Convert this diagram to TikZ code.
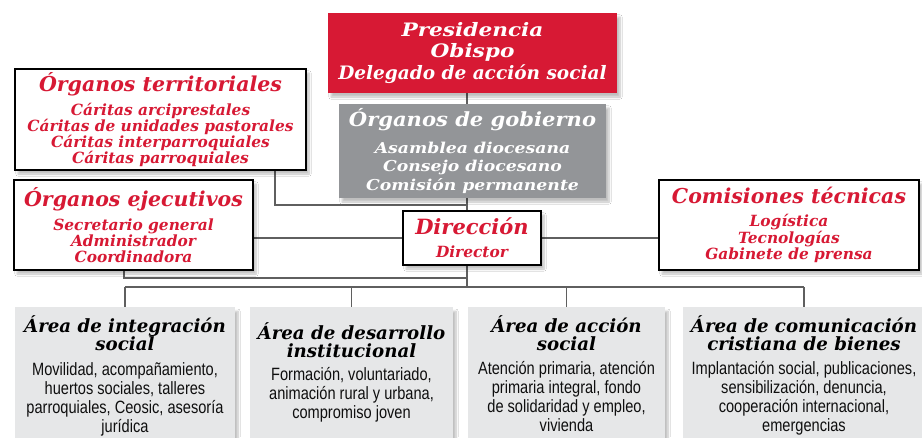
\documentclass[tikz,border=0pt]{standalone}
\usepackage{fontspec}
\setmainfont{DejaVu Serif}
\newfontfamily\tf{DejaVu Serif}
\newfontfamily\tfwide{DejaVu Serif}[FakeStretch=1.17]
\newfontfamily\tfgob{DejaVu Serif}[FakeStretch=1.15]
\newfontfamily\tfgobt{DejaVu Serif}[FakeStretch=1.08]
\newfontfamily\bodysans{Liberation Sans}[FakeStretch=0.82]
\usetikzlibrary{shadows.blur,calc,backgrounds}
\definecolor{cred}{RGB}{215,25,52}
\definecolor{cgov}{RGB}{147,149,152}
\definecolor{carea}{RGB}{230,231,232}
\definecolor{cline}{RGB}{95,95,95}
\definecolor{cbody}{RGB}{15,15,15}
\tikzset{
  shad/.style={blur shadow={shadow blur steps=6, shadow xshift=3pt, shadow yshift=-4pt, shadow opacity=25}},
  whitebox/.style={draw=black, line width=1.3pt, fill=white, inner sep=0pt, shad, align=center, text=cred,
    font=\tf\bfseries\itshape\fontsize{15.4}{15.8}\selectfont},
  redbox/.style={fill=cred, inner sep=0pt, shad, align=center, text=white,
    font=\tf\bfseries\itshape\fontsize{18.5}{21.5}\selectfont},
  govbox/.style={fill=cgov, inner sep=0pt, shad, align=center, text=white,
    font=\tfgob\bfseries\itshape\fontsize{15}{18.5}\selectfont},
  areabox/.style={fill=carea, inner sep=0pt, shad},
  conn/.style={draw=cline, line width=1.8pt},
  atitle/.style={align=center, inner sep=0pt, text=black,
    font=\tf\bfseries\itshape\fontsize{18.2}{18.5}\selectfont},
  abody/.style={align=center, inner sep=0pt, text=cbody,
    font=\bodysans\fontsize{17.8}{19.2}\selectfont},
}
\newcommand{\hd}[1]{{\fontsize{20.5}{15.8}\selectfont #1}}
\begin{document}
\lineskiplimit=-20pt\relax
\begin{tikzpicture}[x=1pt,y=-1pt]
\useasboundingbox (0,0) rectangle (922,437);
\coordinate (spine) at (467,0);
\coordinate (tj) at (275,205);
\coordinate (ej) at (124,278);
\coordinate (bus) at (0,287);

% boxes
\node[redbox, minimum width=289pt, minimum height=80pt] (pres) at (472.5,53)
  {{\tfwide Presidencia}\\{\tfwide Obispo}\\Delegado de acción social};
\node[govbox, minimum width=267pt, minimum height=94pt] (gob) at (472.5,151)
  {{\tfgobt\fontsize{19.5}{18.5}\selectfont Órganos de gobierno}\\[8pt]Asamblea diocesana\\Consejo diocesano\\Comisión permanente};
\node[whitebox, minimum width=291pt, minimum height=101pt] (terr) at (160.5,119.5)
  {\hd{Órganos territoriales}\\[8.5pt]Cáritas arciprestales\\Cáritas de unidades pastorales\\Cáritas interparroquiales\\Cáritas parroquiales};
\node[whitebox, minimum width=239pt, minimum height=90pt] (ejec) at (133.5,225)
  {\hd{Órganos ejecutivos}\\[8.5pt]Secretario general\\Administrador\\Coordinadora};
\node[whitebox, minimum width=138pt, minimum height=54pt] (dir) at (472,238)
  {{\fontsize{21}{15.6}\selectfont Dirección}\\[7.4pt]Director};
\node[whitebox, minimum width=260pt, minimum height=90pt] (com) at (789,225)
  {\hd{Comisiones técnicas}\\[7.5pt]Logística\\[0.8pt]Tecnologías\\[0.8pt]Gabinete de prensa};

\node[areabox, minimum width=220pt, minimum height=140pt, anchor=north] (b1) at (125,307) {};
\node[areabox, minimum width=203pt, minimum height=140pt, anchor=north] (b2) at (351.5,307) {};
\node[areabox, minimum width=197pt, minimum height=140pt, anchor=north] (b3) at (566.5,307) {};
\node[areabox, minimum width=242pt, minimum height=140pt, anchor=north] (b4) at (804,307) {};

\begin{scope}[on background layer]
\fill[white] (0,0) rectangle (922,437);
\draw[conn] (pres.south -| spine) -- (gob.north -| spine);
\draw[conn] (gob.south -| spine) -- (dir.north -| spine);
\draw[conn] (terr.south -| tj) |- (tj -| spine);
\draw[conn] (ejec.south -| ej) |- (ej -| spine);
\draw[conn] (dir.south -| spine) -- (bus -| spine);
\draw[conn] (dir.west) -- (dir.west -| ejec.east);
\draw[conn] (dir.east) -- (dir.east -| com.west);
\draw[conn] (b1.north |- bus) -- (b4.north |- bus);
\foreach \b in {b1,b2,b3,b4} \draw[conn] (\b.north |- bus) -- (\b.north);
\end{scope}

\node[atitle, anchor=north] (t1) at (125,315) {Área de integración\\social};
\node[atitle, anchor=north] (t2) at (351.5,322) {Área de desarrollo\\institucional};
\node[atitle, anchor=north] (t3) at (566.5,315) {Área de acción\\social};
\node[atitle, anchor=north] (t4) at (804,315) {Área de comunicación\\cristiana de bienes};

\node[abody, anchor=north] (d1) at (125,362) {Movilidad, acompañamiento,\\huertos sociales, talleres\\parroquiales, Ceosic, asesoría\\jurídica};
\node[abody, anchor=north] (d2) at (351.5,367) {Formación, voluntariado,\\animación rural y urbana,\\compromiso joven};
\node[abody, anchor=north] (d3) at (566.5,361) {Atención primaria, atención\\primaria integral, fondo\\de solidaridad y empleo,\\vivienda};
\node[abody, anchor=north] (d4) at (804,361) {Implantación social, publicaciones,\\sensibilización, denuncia,\\cooperación internacional,\\emergencias};
\end{tikzpicture}
\end{document}
